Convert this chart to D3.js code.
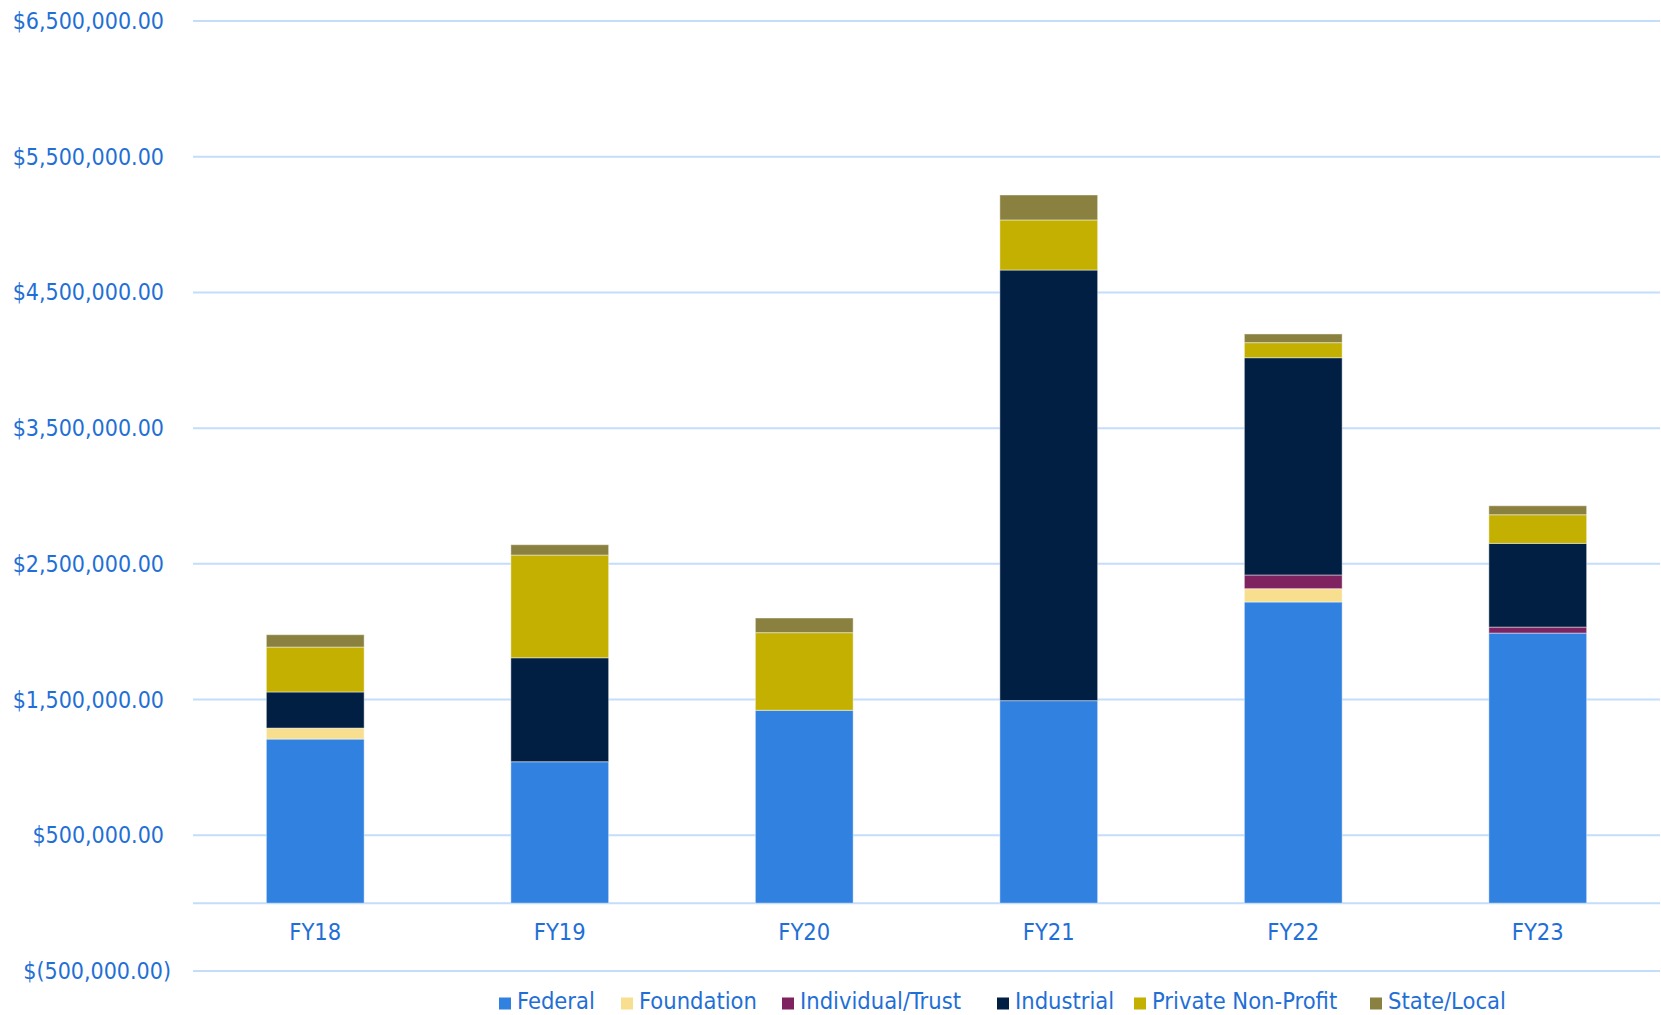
<!DOCTYPE html>
<html>
<head>
<meta charset="utf-8">
<script src="https://cdn.jsdelivr.net/npm/d3@7/dist/d3.min.js"></script>
<style>
  html, body { margin: 0; padding: 0; background: #ffffff; }
  svg { display: block; }
  text { font-family: "DejaVu Sans Condensed", "DejaVu Sans", sans-serif; fill: #1F6FD6; }
</style>
</head>
<body>
<svg id="chart" width="1661" height="1015"></svg>
<script>
const categories = ["FY18", "FY19", "FY20", "FY21", "FY22", "FY23"];
const seriesNames = ["Federal", "Foundation", "Individual/Trust", "Industrial", "Private Non-Profit", "State/Local"];
const federal          = [1209000, 1042000, 1421000, 1492000, 2219000, 1990000];
const foundation       = [  81000,       0,       0,       0,   98000,       0];
const individualTrust  = [      0,       0,       0,       0,  101000,   44000];
const industrial       = [ 266000,  766000,       0, 3173000, 1601000,  617000];
const privateNonProfit = [ 331000,  757000,  572000,  369000,  111000,  211000];
const stateLocal       = [  91000,   76000,  108000,  184000,   64000,   66000];
const yTicks = [-500000, 500000, 1500000, 2500000, 3500000, 4500000, 5500000, 6500000];
const colors = ["#3181E1", "#F8DF90", "#7E2360", "#001F42", "#C4B000", "#8A8140"];

const seriesValues = [federal, foundation, individualTrust, industrial, privateNonProfit, stateLocal];
const table = categories.map((c, i) => {
  const row = { cat: c };
  seriesNames.forEach((s, j) => row[s] = seriesValues[j][i]);
  return row;
});

const svg = d3.select("#chart");
const plotLeft = 193, plotRight = 1660, plotTop = 21, plotBottom = 971;

const y = d3.scaleLinear().domain([-500000, 6500000]).range([plotBottom, plotTop]);
const x = d3.scaleBand().domain(categories).range([plotLeft, plotRight]).paddingInner(0.6).paddingOuter(0.3);

// gridlines
svg.append("g").selectAll("line").data(yTicks).join("line")
  .attr("x1", plotLeft).attr("x2", plotRight)
  .attr("y1", d => y(d)).attr("y2", d => y(d))
  .attr("stroke", "#C3DDFB").attr("stroke-width", 2);

// y axis labels
const fmt = d3.format(",.2f");
svg.append("g").selectAll("text").data(yTicks).join("text")
  .attr("x", d => d < 0 ? 171 : 164)
  .attr("y", d => y(d))
  .attr("dy", "0.35em")
  .attr("text-anchor", "end")
  .style("font-size", "23px")
  .text(d => d < 0 ? "$(" + fmt(-d) + ")" : "$" + fmt(d));

// zero baseline
svg.append("line")
  .attr("x1", plotLeft).attr("x2", plotRight)
  .attr("y1", y(0)).attr("y2", y(0))
  .attr("stroke", "#C3DDFB").attr("stroke-width", 2);

// stacked bars
const stack = d3.stack().keys(seriesNames);
const stacked = stack(table);
svg.append("g").selectAll("g").data(stacked).join("g")
  .attr("fill", (d, i) => colors[i])
  .selectAll("rect").data(d => d.filter(p => p[1] - p[0] > 0)).join("rect")
  .attr("x", d => x(d.data.cat))
  .attr("width", x.bandwidth())
  .attr("y", d => y(d[1]))
  .attr("height", d => y(d[0]) - y(d[1]))
  .attr("stroke", "rgba(255,255,255,0.45)")
  .attr("stroke-width", 1);

// category labels
svg.append("g").selectAll("text").data(categories).join("text")
  .attr("x", d => x(d) + x.bandwidth() / 2)
  .attr("y", 932)
  .attr("dy", "0.35em")
  .attr("text-anchor", "middle")
  .style("font-size", "23.5px")
  .text(d => d);

// legend
const legendX = [499, 621, 782, 997, 1134, 1370];
const lg = svg.append("g").selectAll("g").data(seriesNames).join("g")
  .attr("transform", (d, i) => `translate(${legendX[i]},1002)`);
lg.append("rect").attr("x", 0).attr("y", -4.5).attr("width", 12).attr("height", 12)
  .attr("fill", (d, i) => colors[i]);
lg.append("text").attr("x", 18).attr("y", 7)
  .style("font-size", "23.5px")
  .text(d => d);
</script>
</body>
</html>
